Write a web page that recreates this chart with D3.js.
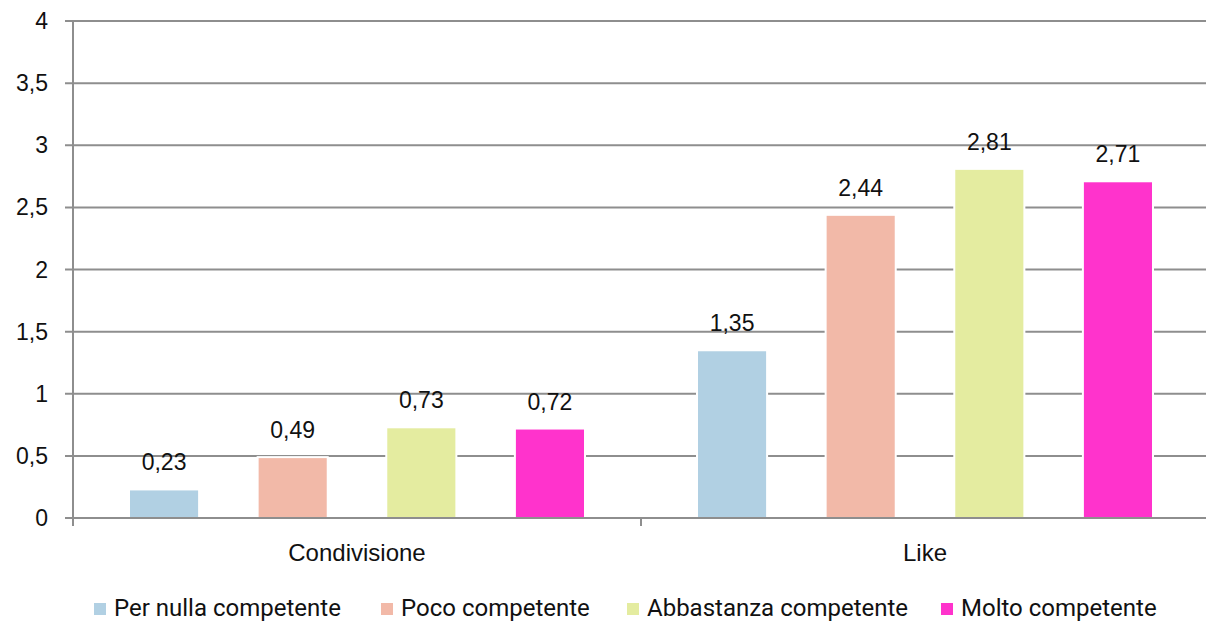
<!DOCTYPE html>
<html>
<head>
<meta charset="utf-8">
<script src="https://cdn.jsdelivr.net/npm/d3@7"></script>
<style>
  html, body { margin: 0; padding: 0; background: #fff; }
  svg { display: block; }
</style>
</head>
<body>
<svg id="chart" width="1206" height="622"></svg>
<script>
// Categories, series and values
const categories = ["Condivisione", "Like"];
const seriesNames = ["Per nulla competente", "Poco competente", "Abbastanza competente", "Molto competente"];
const seriesColors = ["#b1d0e3", "#f2b9a8", "#e4eca0", "#ff33cc"];
const values = [
  [0.23, 1.35],   // Per nulla competente
  [0.49, 2.44],   // Poco competente
  [0.73, 2.81],   // Abbastanza competente
  [0.72, 2.71]    // Molto competente
];
const yTicks = [0, 0.5, 1, 1.5, 2, 2.5, 3, 3.5, 4];

const fmt = v => String(v).replace(".", ",");

const svg = d3.select("#chart");
const margin = { left: 73, top: 21, right: -3, bottom: 104 };
const W = 1206, H = 622;
const plotW = W - margin.left - margin.right;
const plotH = H - margin.top - margin.bottom;

const g = svg.append("g").attr("transform", `translate(${margin.left},${margin.top})`);

const x0 = d3.scaleBand().domain(categories).range([0, plotW]).paddingInner(0).paddingOuter(0);
const x1 = d3.scaleBand().domain(seriesNames).range([56, x0.bandwidth() - 56]).paddingInner(0.455).paddingOuter(0);
const y = d3.scaleLinear().domain([0, 4]).range([plotH, 0]);

const gridColor = "#8e8e8e";
const labelFont = "Liberation Sans, Arial, sans-serif";

// horizontal gridlines with left tick marks
g.append("g")
  .selectAll("line")
  .data(yTicks)
  .join("line")
  .attr("x1", -8).attr("x2", plotW)
  .attr("y1", d => y(d)).attr("y2", d => y(d))
  .attr("stroke", gridColor).attr("stroke-width", 2);

// y tick labels
g.append("g")
  .selectAll("text")
  .data(yTicks)
  .join("text")
  .attr("x", -25).attr("y", d => y(d))
  .attr("dy", "0.35em")
  .attr("text-anchor", "end")
  .attr("font-family", labelFont)
  .attr("font-size", 23)
  .attr("fill", "#111")
  .text(d => fmt(d));

// vertical axis line
g.append("line")
  .attr("x1", 0).attr("x2", 0).attr("y1", 0).attr("y2", plotH + 8)
  .attr("stroke", gridColor).attr("stroke-width", 2);

// category separator ticks
g.append("g")
  .selectAll("line")
  .data(categories.slice(1))
  .join("line")
  .attr("x1", d => x0(d)).attr("x2", d => x0(d))
  .attr("y1", plotH).attr("y2", plotH + 8)
  .attr("stroke", gridColor).attr("stroke-width", 2);

// bars
const groups = g.append("g")
  .selectAll("g")
  .data(categories)
  .join("g")
  .attr("transform", d => `translate(${x0(d)},0)`);

groups.selectAll("rect")
  .data((c, ci) => seriesNames.map((s, si) => ({ s, si, v: values[si][ci] })))
  .join("rect")
  .attr("x", d => x1(d.s))
  .attr("width", x1.bandwidth())
  .attr("y", d => y(d.v))
  .attr("height", d => y(0) - y(d.v))
  .attr("fill", d => seriesColors[d.si])
  .attr("stroke", "#fff")
  .attr("stroke-width", 2);

// value labels
groups.selectAll("text")
  .data((c, ci) => seriesNames.map((s, si) => ({ s, si, v: values[si][ci] })))
  .join("text")
  .attr("x", d => x1(d.s) + x1.bandwidth() / 2)
  .attr("y", d => y(d.v) - 19)
  .attr("text-anchor", "middle")
  .attr("font-family", labelFont)
  .attr("font-size", 23)
  .attr("fill", "#111")
  .text(d => fmt(d.v));

// redraw baseline on top of bars
g.append("line")
  .attr("x1", 0).attr("x2", plotW).attr("y1", plotH).attr("y2", plotH)
  .attr("stroke", gridColor).attr("stroke-width", 2);

// category labels
g.append("g")
  .selectAll("text")
  .data(categories)
  .join("text")
  .attr("x", d => x0(d) + x0.bandwidth() / 2)
  .attr("y", plotH + 43)
  .attr("text-anchor", "middle")
  .attr("font-family", labelFont)
  .attr("font-size", 24)
  .attr("fill", "#111")
  .text(d => d);

// legend
const legendX = [94, 381, 627, 941];
const legend = svg.append("g")
  .selectAll("g")
  .data(seriesNames)
  .join("g")
  .attr("transform", (d, i) => `translate(${legendX[i]},0)`);

legend.append("rect")
  .attr("x", 0).attr("y", 603).attr("width", 12).attr("height", 12)
  .attr("fill", (d, i) => seriesColors[i]);

legend.append("text")
  .attr("x", 20).attr("y", 616)
  .attr("font-family", "Roboto, sans-serif")
  .attr("font-size", 24)
  .attr("fill", "#111")
  .text(d => d);
</script>
</body>
</html>
